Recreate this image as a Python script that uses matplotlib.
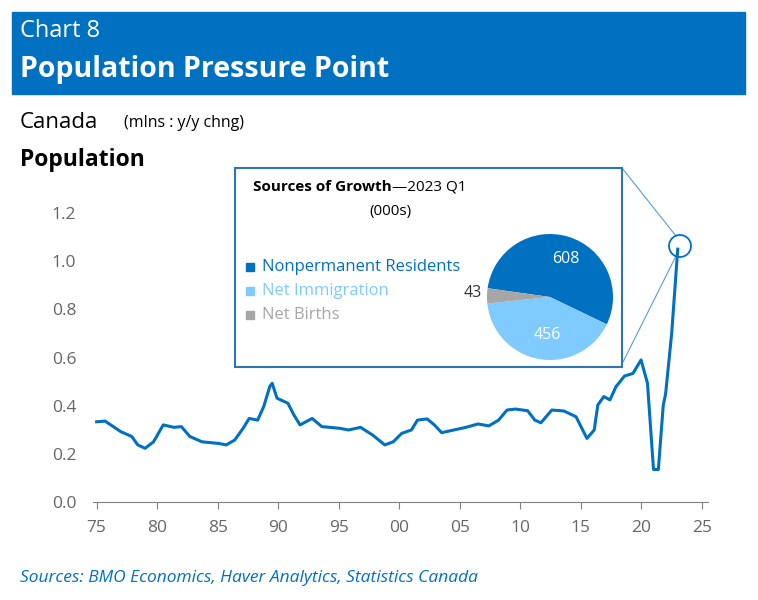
import matplotlib
matplotlib.use("Agg")
import matplotlib.pyplot as plt
from matplotlib.patches import Rectangle, Ellipse
from matplotlib.lines import Line2D

years = [1975.0,1975.7,1977.0,1977.9,1978.4,1979.0,1979.7,1980.5,1981.4,1982.0,1982.7,1983.7,1985.1,1985.7,
         1986.4,1987.1,1987.6,1988.3,1988.8,1989.3,1989.5,1989.9,1990.8,1991.3,1991.8,1992.8,1993.6,1995.1,
         1995.8,1996.8,1997.8,1998.8,1999.5,2000.2,2001.0,2001.5,2002.3,2002.9,2003.5,2004.5,2005.5,2006.5,
         2007.4,2008.2,2008.9,2009.6,2010.6,2011.2,2011.7,2012.6,2013.6,2014.6,2015.5,2016.1,2016.4,2016.9,
         2017.4,2017.9,2018.6,2019.3,2019.97,2020.5,2021.0,2021.4,2021.8,2022.0,2022.5,2023.0]
pop = [0.333,0.336,0.292,0.272,0.237,0.223,0.250,0.320,0.310,0.313,0.272,0.250,0.243,0.237,
       0.257,0.306,0.347,0.340,0.396,0.479,0.493,0.431,0.410,0.361,0.320,0.347,0.313,0.306,
       0.299,0.310,0.278,0.237,0.250,0.285,0.299,0.340,0.345,0.320,0.288,0.299,0.310,0.324,
       0.316,0.340,0.382,0.386,0.379,0.340,0.329,0.382,0.378,0.354,0.264,0.299,0.403,0.438,
       0.424,0.479,0.523,0.534,0.590,0.493,0.135,0.135,0.40,0.45,0.70,1.05]
xticks = [1975,1980,1985,1990,1995,2000,2005,2010,2015,2020,2025]
xticklabels = ["75","80","85","90","95","00","05","10","15","20","25"]
yticks = [0.0,0.2,0.4,0.6,0.8,1.0,1.2]

pie_labels = ["Nonpermanent Residents","Net Immigration","Net Births"]
pie_vals = [608,456,43]
pie_colors = ["#0070C0","#7FCBFF","#A6A6A6"]

BLUE = "#0070C0"
W, H = 758, 600
fig = plt.figure(figsize=(W/100, H/100), dpi=100)
fx = lambda x: x / W
fy = lambda y: 1 - y / H

# header
fig.patches.append(Rectangle((fx(12), fy(94)), fx(745)-fx(12), fy(12)-fy(94),
                             transform=fig.transFigure, color=BLUE, zorder=0))
fig.text(fx(20), fy(31), "Chart 8", color="white", fontsize=17, va="center", family="Open Sans")
fig.text(fx(20), fy(70), "Population Pressure Point", color="white", fontsize=20.5, fontweight="bold",
         va="center", family="Open Sans")
fig.text(fx(20), fy(122), "Canada", fontsize=16, va="center", family="Open Sans")
fig.text(fx(124), fy(123), "(mlns : y/y chng)", fontsize=11.5, va="center", family="Open Sans")
fig.text(fx(20), fy(160), "Population", fontsize=16.5, fontweight="bold", va="center", family="Open Sans")
fig.text(fx(20), fy(578), "Sources: BMO Economics, Haver Analytics, Statistics Canada", color=BLUE,
         fontsize=12.5, style="italic", va="center", family="Open Sans")

ax = fig.add_axes([fx(93), fy(502), fx(708)-fx(93), fy(201)-fy(502)])
ax.plot(years, pop, color=BLUE, lw=2.2)
ax.set_xlim(1974.7, 2025.5)
ax.set_ylim(0, 1.25)
for s in ["top", "right", "left"]:
    ax.spines[s].set_visible(False)
ax.spines["bottom"].set_color("#808080")
ax.set_xticks(xticks)
ax.set_xticklabels(xticklabels)
ax.set_yticks(yticks)
ax.set_yticklabels([f"{v:.1f}" for v in yticks])
ax.tick_params(axis="x", direction="out", length=5, color="#808080", labelsize=12.5, labelcolor="#666666", pad=8)
ax.tick_params(axis="y", length=0, labelsize=12.5, labelcolor="#666666", pad=12)
for lab in ax.get_xticklabels() + ax.get_yticklabels():
    lab.set_family("Open Sans")

# inset box & connectors
fig.patches.append(Rectangle((fx(235), fy(367)), fx(622)-fx(235), fy(168)-fy(367), transform=fig.transFigure,
                             facecolor="white", edgecolor="#2E75B6", lw=1.5, zorder=3))
fig.patches.append(Ellipse((fx(680), fy(246)), 22/W, 22/H, transform=fig.transFigure,
                           fill=False, edgecolor=BLUE, lw=1.3, zorder=3))
fig.lines.append(Line2D([fx(622), fx(676)], [fy(168), fy(236)], transform=fig.transFigure, color="#5B9BD5", lw=0.8))
fig.lines.append(Line2D([fx(622), fx(676)], [fy(364), fy(256)], transform=fig.transFigure, color="#5B9BD5", lw=0.8))

fig.text(fx(392), fy(187), "Sources of Growth", fontsize=11, fontweight="bold", ha="right", va="center",
         family="Open Sans", zorder=4)
fig.text(fx(392), fy(187), "\u20142023 Q1", fontsize=11, ha="left", va="center", family="Open Sans", zorder=4)
fig.text(fx(390), fy(212), "(000s)", fontsize=11, ha="center", va="center", family="Open Sans", zorder=4)
for i, (lab, c) in enumerate(zip(pie_labels, pie_colors)):
    yy = 267 + i * 24
    fig.patches.append(Rectangle((fx(246), fy(yy + 4)), 8/W, 8/H, transform=fig.transFigure, color=c, zorder=4))
    fig.text(fx(262), fy(yy), lab, color=c if i else BLUE, fontsize=12, va="center", family="Open Sans", zorder=4)

pax = fig.add_axes([fx(487), fy(360), 126/W, 126/H], zorder=5)
wedges, _ = pax.pie(pie_vals, colors=pie_colors, startangle=172, counterclock=False, radius=1.0)
pax.set_xlim(-1, 1)
pax.set_ylim(-1, 1)
pax.set_aspect("equal")
pax.text(0.25, 0.6, "608", color="white", fontsize=11.5, ha="center", va="center", family="Open Sans")
pax.text(-0.05, -0.6, "456", color="white", fontsize=11.5, ha="center", va="center", family="Open Sans")
pax.text(-1.22, 0.06, "43", color="#333333", fontsize=11.5, ha="center", va="center", family="Open Sans")

fig.savefig("out.png", dpi=100)
